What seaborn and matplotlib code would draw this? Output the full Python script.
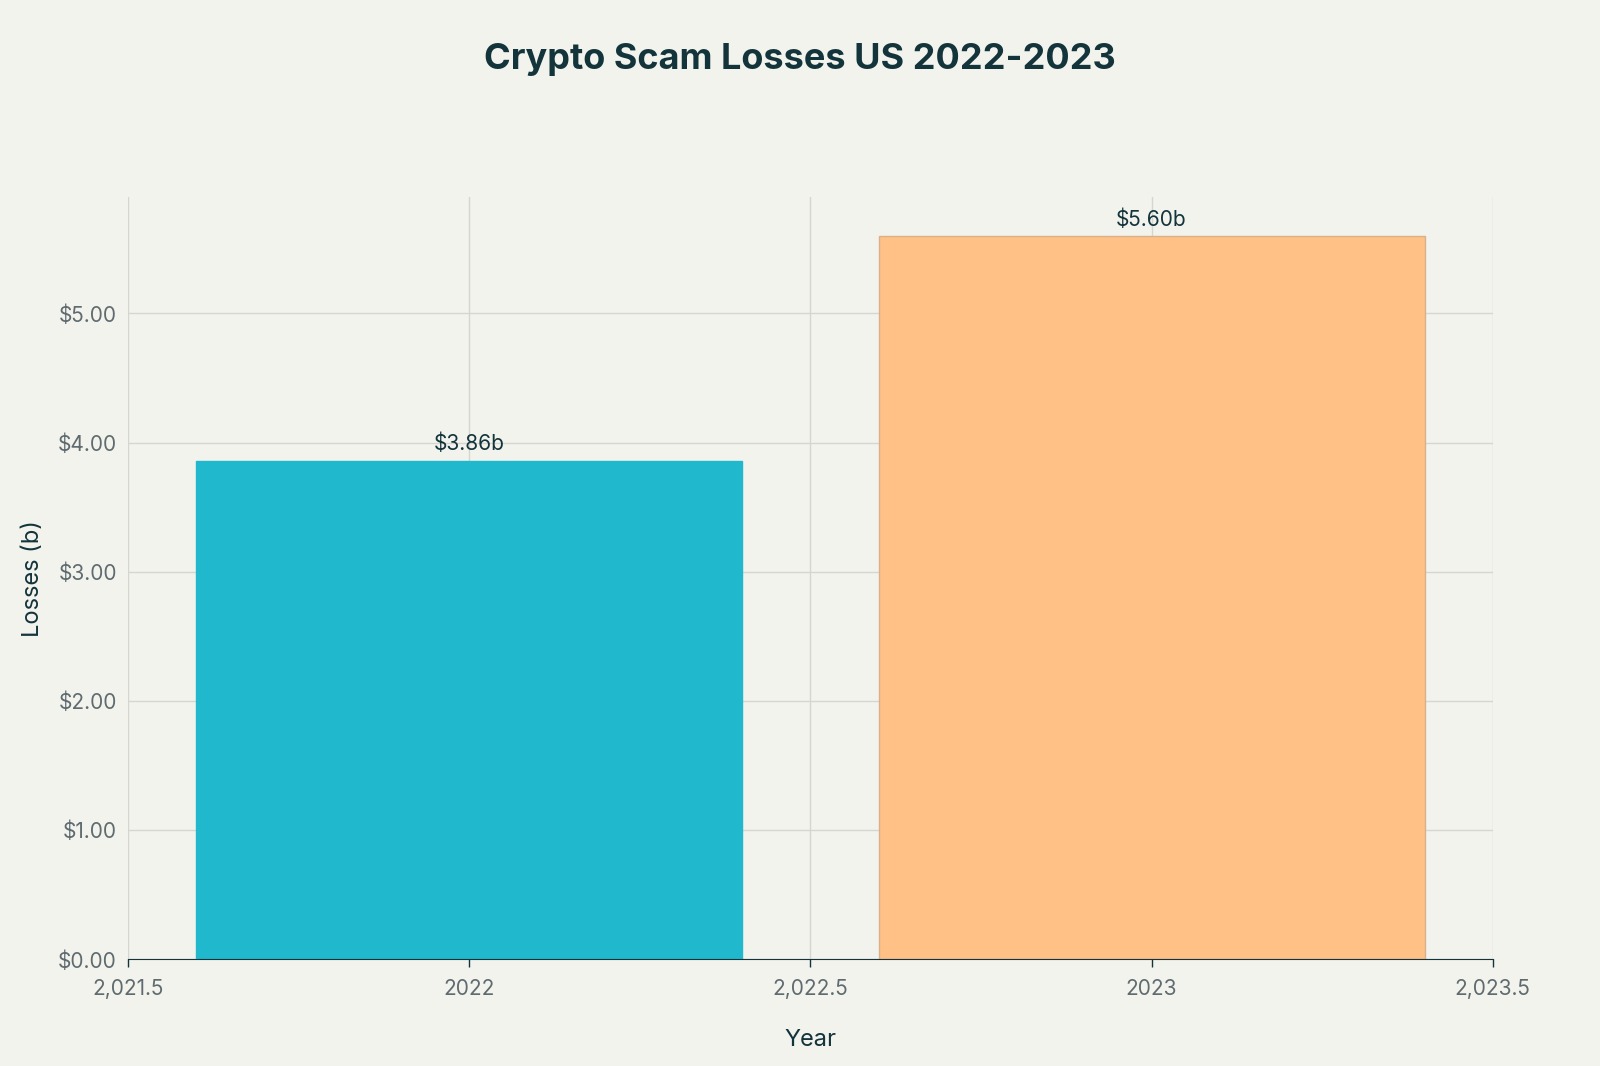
import matplotlib
matplotlib.use("Agg")
import matplotlib.pyplot as plt
import seaborn as sns
import pandas as pd

years = [2022, 2023]
losses = [3.86, 5.60]
bar_labels = ["$3.86b", "$5.60b"]
colors = {2022: "#1FB8CD", 2023: "#FFC185"}
xticks = [2021.5, 2022, 2022.5, 2023, 2023.5]
xticklabels = ["2,021.5", "2022", "2,022.5", "2023", "2,023.5"]
yticks = [0, 1, 2, 3, 4, 5]
yticklabels = ["$0.00", "$1.00", "$2.00", "$3.00", "$4.00", "$5.00"]

plt.rcParams["font.family"] = "Inter"
bg = "#F3F3EE"
fig = plt.figure(figsize=(16, 10.66), dpi=100, facecolor=bg)
ax = fig.add_axes([0.080, 0.100, 0.853, 0.715], facecolor=bg)

df = pd.DataFrame({"Year": years, "Losses": losses})
sns.barplot(data=df, x="Year", y="Losses", hue="Year", palette=colors,
            native_scale=True, legend=False, ax=ax, width=0.8, saturation=1,
            zorder=2)
for p, c in zip(ax.patches, ["#1FB8CD", "#D8B08A"]):
    p.set_edgecolor(c)
    p.set_linewidth(1)

for x, v, t in zip(years, losses, bar_labels):
    ax.text(x, v + 0.05, t, ha="center", va="bottom", fontsize=15, color="#13343B")

ax.set_xlim(2021.5, 2023.5)
ax.set_ylim(0, 5.9)
ax.set_xticks(xticks)
ax.set_xticklabels(xticklabels)
ax.set_yticks(yticks)
ax.set_yticklabels(yticklabels)
ax.tick_params(axis="both", colors="#5F6B6F", labelsize=15, length=0, pad=8)
ax.tick_params(axis="x", length=6, color="#13343B", width=1)
ax.grid(True, color="#D5D6D2", linewidth=1, zorder=0)
ax.set_axisbelow(True)
for s in ["top", "right", "left"]:
    ax.spines[s].set_visible(False)
ax.spines["bottom"].set_color("#13343B")
ax.set_xlabel("Year", fontsize=17, color="#13343B", labelpad=22)
ax.set_ylabel("Losses (b)", fontsize=17, color="#13343B", labelpad=10)
fig.suptitle("Crypto Scam Losses US 2022-2023", fontsize=26, fontweight="bold",
             color="#13343B", y=0.96)
fig.savefig("out.png", facecolor=bg)
